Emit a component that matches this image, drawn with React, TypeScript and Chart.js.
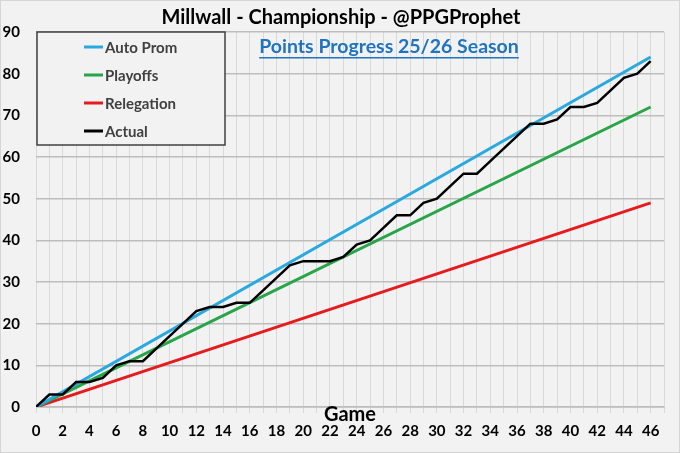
import { useEffect, useRef } from "react";
import { Chart, registerables } from "chart.js";

Chart.register(...registerables);

const TITLE = "Millwall - Championship - @PPGProphet";
const SUBTITLE = "Points Progress 25/26 Season";
const X_TITLE = "Game";
const SERIES_NAMES = ["Auto Prom", "Playoffs", "Relegation", "Actual"];
const SERIES_COLORS = ["#2aa8e0", "#27a548", "#e61b1e", "#000000"];
const TARGET_GAMES = [0, 46];
const AUTO_PROM = [0, 84];
const PLAYOFFS = [0, 72];
const RELEGATION = [0, 49];
const ACTUAL = [
  0, 3, 3, 6, 6, 7, 10, 11, 11, 14, 17, 20, 23, 24, 24, 25, 25, 28, 31, 34, 35, 35, 35, 36,
  39, 40, 43, 46, 46, 49, 50, 53, 56, 56, 59, 62, 65, 68, 68, 69, 72, 72, 73, 76, 79, 80, 83,
];
const X_MIN = 0;
const X_MAX = 47;
const Y_MIN = 0;
const Y_MAX = 90;
const Y_STEP = 10;

const FONT = 'Lato, "Open Sans", sans-serif';

const decorPlugin = {
  id: "decor",
  beforeDraw(chart: any) {
    const { ctx, width, height } = chart;
    ctx.save();
    ctx.fillStyle = "#f2f2f2";
    ctx.fillRect(0, 0, width, height);
    ctx.restore();
  },
  afterDraw(chart: any) {
    const { ctx, width, height } = chart;
    ctx.save();
    // frame
    ctx.strokeStyle = "#d6d6d6";
    ctx.lineWidth = 1;
    ctx.strokeRect(0.5, 0.5, width - 1, height - 1);

    // title
    ctx.fillStyle = "#000000";
    ctx.font = `bold 20px ${FONT}`;
    ctx.textAlign = "center";
    ctx.textBaseline = "middle";
    ctx.fillText(TITLE, 341, 18);

    // subtitle (underlined)
    ctx.fillStyle = "#1f74c2";
    ctx.font = `bold 19.5px ${FONT}`;
    ctx.fillText(SUBTITLE, 389, 47);
    const w = ctx.measureText(SUBTITLE).width;
    ctx.fillRect(389 - w / 2, 57, w, 1.5);

    // x axis title
    ctx.fillStyle = "#000000";
    ctx.font = `bold 20px ${FONT}`;
    ctx.fillText(X_TITLE, 350, 415);

    // legend box
    const bx = 37, by = 32, bw = 188, bh = 113;
    ctx.fillStyle = "#f2f2f2";
    ctx.fillRect(bx, by, bw, bh);
    ctx.strokeStyle = "#404040";
    ctx.lineWidth = 1.5;
    ctx.strokeRect(bx, by, bw, bh);
    ctx.font = `bold 15px ${FONT}`;
    ctx.textAlign = "left";
    SERIES_NAMES.forEach((name, i) => {
      const y = 47 + i * 28;
      ctx.strokeStyle = SERIES_COLORS[i];
      ctx.lineWidth = 3;
      ctx.beginPath();
      ctx.moveTo(84, y);
      ctx.lineTo(103, y);
      ctx.stroke();
      ctx.fillStyle = "#404040";
      ctx.fillText(name, 105, y + 1);
    });
    ctx.restore();
  },
};

export default function App() {
  const ref = useRef<HTMLCanvasElement | null>(null);

  useEffect(() => {
    if (!ref.current) return;
    const toPts = (xs: number[], ys: number[]) => ys.map((y, i) => ({ x: xs[i], y }));
    const actualPts = ACTUAL.map((y, i) => ({ x: i, y }));
    const chart = new Chart(ref.current, {
      type: "line",
      data: {
        datasets: [
          {
            label: SERIES_NAMES[3],
            data: actualPts,
            borderColor: SERIES_COLORS[3],
            borderWidth: 2.5,
            pointRadius: 0,
            tension: 0,
          },
          {
            label: SERIES_NAMES[0],
            data: toPts(TARGET_GAMES, AUTO_PROM),
            borderColor: SERIES_COLORS[0],
            borderWidth: 3,
            pointRadius: 0,
          },
          {
            label: SERIES_NAMES[1],
            data: toPts(TARGET_GAMES, PLAYOFFS),
            borderColor: SERIES_COLORS[1],
            borderWidth: 3,
            pointRadius: 0,
          },
          {
            label: SERIES_NAMES[2],
            data: toPts(TARGET_GAMES, RELEGATION),
            borderColor: SERIES_COLORS[2],
            borderWidth: 3,
            pointRadius: 0,
          },
        ],
      },
      options: {
        animation: false,
        responsive: false,
        devicePixelRatio: 1,
        layout: { padding: { top: 32, right: 16, left: 0, bottom: 0 } },
        plugins: {
          legend: { display: false },
          title: { display: false },
          tooltip: { enabled: false },
        },
        scales: {
          x: {
            type: "linear",
            min: X_MIN,
            max: X_MAX,
            afterFit(scale: any) {
              scale.height = 46;
            },
            ticks: {
              stepSize: 1,
              autoSkip: false,
              maxRotation: 0,
              padding: 9,
              color: "#000000",
              font: { family: FONT, size: 15, weight: "bold" },
              callback: (v: any) => (Number(v) % 2 === 0 && Number(v) <= 46 ? String(v) : ""),
            },
            grid: {
              color: "#d9d9d9",
              lineWidth: 1,
              drawTicks: true,
              tickLength: 6,
              tickColor: "#d9d9d9",
            },
            border: { display: true, color: "#c8c8c8", width: 1 },
          },
          y: {
            min: Y_MIN,
            max: Y_MAX,
            afterFit(scale: any) {
              scale.width = 36;
            },
            ticks: {
              stepSize: Y_STEP,
              padding: 16,
              color: "#000000",
              font: { family: FONT, size: 15, weight: "bold" },
            },
            grid: {
              color: "#bdbdbd",
              lineWidth: 1.5,
              drawTicks: false,
            },
            border: { display: false },
          },
        },
      },
      plugins: [decorPlugin],
    });
    return () => chart.destroy();
  }, []);

  return (
    <div style={{ position: "absolute", left: 0, top: 0, width: 680, height: 453 }}>
      <canvas ref={ref} width={680} height={453} style={{ display: "block" }} />
    </div>
  );
}
